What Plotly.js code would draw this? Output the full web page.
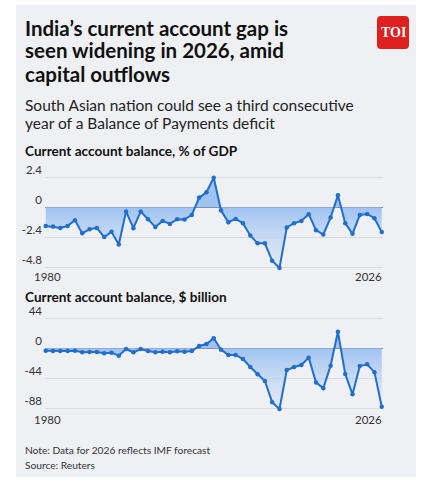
<!DOCTYPE html>
<html>
<head>
<meta charset="utf-8">
<script src="https://cdn.plot.ly/plotly-3.0.1.min.js"></script>
<style>html,body{margin:0;padding:0;background:#fff;}#chart{width:426px;height:485px;}</style>
</head>
<body>
<div id="chart"></div>
<script>
// ---- data ----
var years = [1980,1981,1982,1983,1984,1985,1986,1987,1988,1989,1990,1991,1992,1993,1994,1995,1996,1997,1998,1999,2000,2001,2002,2003,2004,2005,2006,2007,2008,2009,2010,2011,2012,2013,2014,2015,2016,2017,2018,2019,2020,2021,2022,2023,2024,2025,2026];
var cabPctGdp = [-1.5,-1.55,-1.66,-1.5,-1.04,-2.1,-1.76,-1.66,-2.4,-1.98,-3.0,-0.35,-1.68,-0.35,-0.96,-1.58,-1.1,-1.34,-0.96,-0.99,-0.62,0.77,1.2,2.37,-0.27,-1.2,-0.94,-1.28,-2.27,-2.9,-2.9,-4.3,-4.88,-1.63,-1.28,-1.1,-0.56,-1.84,-2.19,-0.83,0.96,-1.28,-2.14,-0.62,-0.54,-0.88,-2.0];
var cabUsdBn = [-3.5,-4.0,-4.0,-4.0,-3.5,-5.9,-5.4,-5.4,-7.4,-6.4,-10.8,-1.0,-5.9,-1.0,-4.0,-5.9,-4.9,-5.9,-4.4,-4.9,-3.9,3.5,6.3,14.7,-2.0,-9.8,-9.8,-15.7,-27.4,-38,-48,-79,-89,-32,-27.4,-24.5,-13.7,-50,-58.7,-25.5,24.4,-37.7,-67.5,-26,-23.5,-35,-85.6];
var pctTicks = [2.4, 0, -2.4, -4.8];
var pctTickText = ['2.4', '0', '-2.4', '-4.8'];
var usdTicks = [44, 0, -44, -88];
var usdTickText = ['44', '0', '-44', '-88'];
var yearLabels = [years[0], years[years.length - 1]];
var titleLines = ['India\u2019s current account gap is', 'seen widening in 2026, amid', 'capital outflows'];
var subtitleLines = ['South Asian nation could see a third consecutive', 'year of a Balance of Payments deficit'];
var chartTitles = ['Current account balance, % of GDP', 'Current account balance, $ billion'];
var footerLines = ['Note: Data for 2026 reflects IMF forecast', 'Source: Reuters'];

// ---- helpers ----
var W = 426, H = 485;
var FONT = 'Lato, "Open Sans", sans-serif';
function px(x) { return x / W; }
function py(y) { return 1 - y / H; }
var LINE = '#1f6fcb';
var TXT = '#222222';

function series(yvals, xa, ya, ymin) {
  return {
    x: years, y: yvals, xaxis: xa, yaxis: ya,
    type: 'scatter', mode: 'lines+markers',
    line: {color: LINE, width: 2},
    marker: {color: LINE, size: 4.5},
    fill: 'tozeroy',
    fillgradient: {type: 'vertical', start: ymin, stop: 0,
      colorscale: [[0, 'rgba(200,218,245,0.25)'], [1, 'rgba(150,190,242,0.9)']]},
    cliponaxis: false, hoverinfo: 'skip', showlegend: false
  };
}

var xr = [1979.9, 2026.2];
var xdom = [px(45), px(383.2)];

function yaxis(ticks, text, range, dom) {
  return {
    domain: dom, range: range, tickvals: ticks, ticktext: text,
    showgrid: true, gridcolor: '#d8dbe0', gridwidth: 1,
    zeroline: true, zerolinecolor: '#7f8388', zerolinewidth: 1,
    showline: false, ticks: '',
    ticklabelstandoff: 2, ticklabelshift: -7,
    tickfont: {family: FONT, size: 11.5, color: '#333'},
    fixedrange: true
  };
}
function xaxis(anchor) {
  return {domain: xdom, range: xr, anchor: anchor, showgrid: false, zeroline: false,
    showticklabels: false, ticks: '', showline: false, fixedrange: true};
}

var annotations = [];
function addText(t, x, yc, size, bold, color) {
  annotations.push({text: bold ? '<b>' + t + '</b>' : t, xref: 'paper', yref: 'paper',
    x: px(x), y: py(yc), xanchor: 'left', yanchor: 'middle', showarrow: false, borderpad: 0,
    font: {family: FONT, size: size, color: color || TXT}});
}
var tY = [28, 50.5, 74];
titleLines.forEach(function (t, i) { addText(t, 24, tY[i], 20.5, true, '#111'); });
var sY = [105, 123.3];
subtitleLines.forEach(function (t, i) { addText(t, 24, sY[i], 15.5, false, '#222'); });
addText(chartTitles[0], 24, 150.5, 13.6, true, '#111');
addText(chartTitles[1], 24, 296.8, 13.6, true, '#111');
var fY = [450.3, 464.6];
footerLines.forEach(function (t, i) { addText(t, 24, fY[i], 10.2, false, '#333'); });

// year labels on each chart
[['x', 276.5], ['x2', 419.5]].forEach(function (c) {
  annotations.push({text: String(yearLabels[0]), xref: c[0], yref: 'paper', x: yearLabels[0],
    xshift: 1.5, y: py(c[1]), xanchor: 'center', yanchor: 'middle', showarrow: false,
    font: {family: FONT, size: 11.5, color: '#333'}});
  annotations.push({text: String(yearLabels[1]), xref: c[0], yref: 'paper', x: yearLabels[1],
    xshift: 2, y: py(c[1]), xanchor: 'right', yanchor: 'middle', showarrow: false,
    font: {family: FONT, size: 11.5, color: '#333'}});
});

// TOI logo text
annotations.push({text: '<b>TOI</b>', xref: 'paper', yref: 'paper', x: px(393), y: py(33),
  xanchor: 'center', yanchor: 'middle', showarrow: false,
  font: {family: '"Liberation Serif", "DejaVu Serif", serif', size: 14, color: '#fff'}});

var shapes = [
  {type: 'rect', xref: 'paper', yref: 'paper', x0: px(16), x1: px(416), y0: py(477), y1: py(5),
   fillcolor: '#eef0f3', line: {width: 0}, layer: 'below'},
  {type: 'path', xref: 'paper', yref: 'paper', layer: 'above', fillcolor: '#e0201f', line: {width: 0},
   path: (function () {
     var x0 = 377, x1 = 409, y0 = 16, y1 = 49, r = 4;
     function X(v) { return px(v); } function Y(v) { return py(v); }
     return 'M' + X(x0 + r) + ',' + Y(y0) + ' L' + X(x1 - r) + ',' + Y(y0) +
       ' Q' + X(x1) + ',' + Y(y0) + ' ' + X(x1) + ',' + Y(y0 + r) +
       ' L' + X(x1) + ',' + Y(y1 - r) + ' Q' + X(x1) + ',' + Y(y1) + ' ' + X(x1 - r) + ',' + Y(y1) +
       ' L' + X(x0 + r) + ',' + Y(y1) + ' Q' + X(x0) + ',' + Y(y1) + ' ' + X(x0) + ',' + Y(y1 - r) +
       ' L' + X(x0) + ',' + Y(y0 + r) + ' Q' + X(x0) + ',' + Y(y0) + ' ' + X(x0 + r) + ',' + Y(y0) + ' Z';
   })()}
];

var data = [series(cabPctGdp, 'x', 'y', -5.2), series(cabUsdBn, 'x2', 'y2', -92)];

var layout = {
  width: W, height: H, margin: {l: 0, r: 0, t: 0, b: 0},
  paper_bgcolor: '#ffffff', plot_bgcolor: 'rgba(0,0,0,0)',
  showlegend: false,
  xaxis: xaxis('y'), xaxis2: xaxis('y2'),
  yaxis: yaxis(pctTicks, pctTickText, [-5.2, 2.6], [py(272), py(174.8)]),
  yaxis2: yaxis(usdTicks, usdTickText, [-92, 48], [py(411), py(315.6)]),
  annotations: annotations, shapes: shapes
};
layout.yaxis.anchor = 'x';
layout.yaxis2.anchor = 'x2';

Plotly.newPlot('chart', data, layout, {displayModeBar: false, staticPlot: true});
</script>
</body>
</html>
